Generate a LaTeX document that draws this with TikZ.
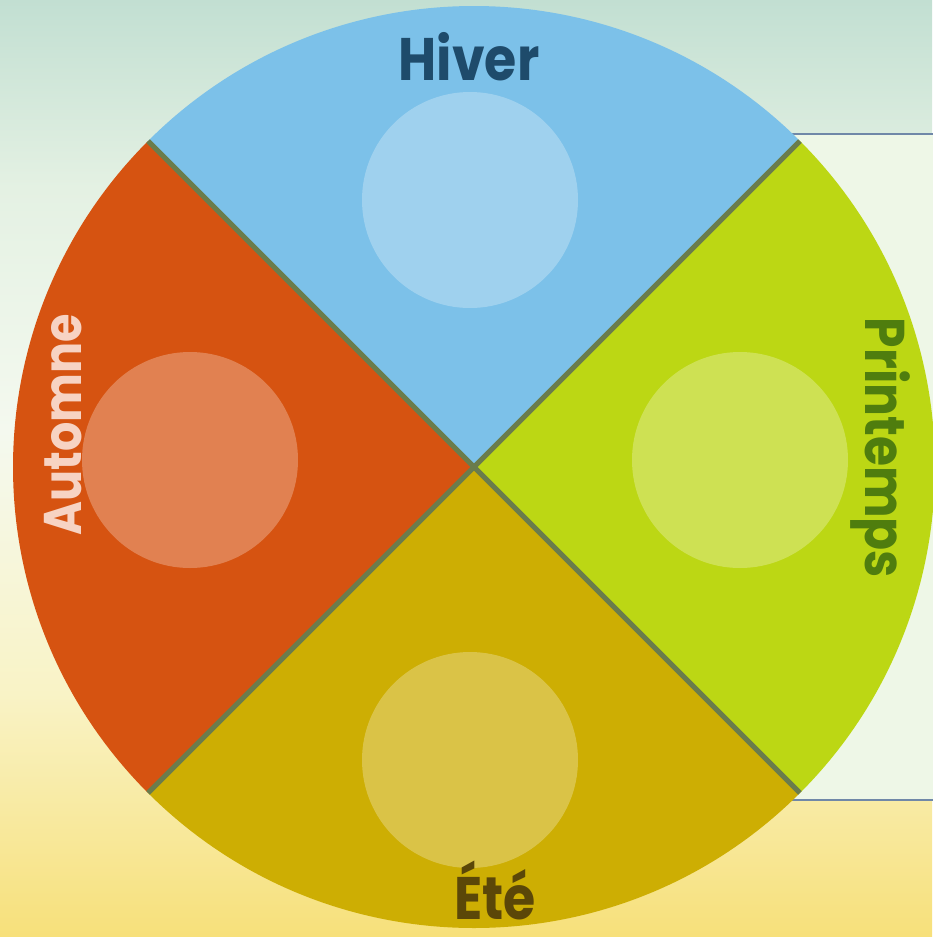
\documentclass[tikz,border=0pt]{standalone}
\usepackage{fontspec}
\usetikzlibrary{calc}
\newfontfamily\labfont[FakeStretch=0.87]{Poppins}
\definecolor{bgtop}{HTML}{C2DFD2}
\definecolor{bgupper}{HTML}{E4F1E3}
\definecolor{bgmid}{HTML}{F4F9EF}
\definecolor{bglower}{HTML}{F9F3C6}
\definecolor{bgbot}{HTML}{F7E07A}
\definecolor{secblue}{HTML}{7CC1E9}
\definecolor{secgreen}{HTML}{BCD714}
\definecolor{secyellow}{HTML}{CDAE03}
\definecolor{secorange}{HTML}{D65311}
\definecolor{divider}{HTML}{6A7C4C}
\definecolor{txtblue}{HTML}{1E4B6B}
\definecolor{txtgreen}{HTML}{4F7D0E}
\definecolor{txtyellow}{HTML}{5B4708}
\definecolor{txtorange}{HTML}{F7D3C3}
\definecolor{panelfill}{HTML}{EEF7E7}
\definecolor{panelline}{HTML}{7088A8}
% the path box is mapped onto 25bp..75bp of the shading
\pgfdeclareverticalshading{bgshade}{100bp}{color(0bp)=(bgbot); color(25bp)=(bgbot); color(38bp)=(bglower); color(52bp)=(bgmid); color(65bp)=(bgupper); color(75bp)=(bgtop); color(100bp)=(bgtop)}
\tikzset{
  divline/.style={draw=divider, line width=5pt},
  innerdisc/.style={circle, fill=white, fill opacity=0.27, draw=none, minimum size=216pt, inner sep=0pt},
  seasonlabel/.style={font=\labfont\bfseries\fontsize{#1}{#1}\selectfont, inner sep=0pt, anchor=center},
  seasonlabel/.default=60,
  panel/.style={fill=panelfill, draw=panelline, line width=2.5pt}
}
\begin{document}
\begin{tikzpicture}[x=1pt, y=1pt]
\useasboundingbox (0,0) rectangle (932,-937);
\shade[shading=bgshade] (0,0) rectangle (932,-937);
% right panel behind the wheel
\path[panel] (793,-134) rectangle (945,-800);
\coordinate (C) at (474,-467);
\def\R{461}
% sectors
\fill[secblue]   (C) -- ++(45:\R)  arc[start angle=45,  end angle=135, radius=\R] -- cycle;
\fill[secorange] (C) -- ++(135:\R) arc[start angle=135, end angle=225, radius=\R] -- cycle;
\fill[secyellow] (C) -- ++(225:\R) arc[start angle=225, end angle=315, radius=\R] -- cycle;
\fill[secgreen]  (C) -- ++(-45:\R) arc[start angle=-45, end angle=45,  radius=\R] -- cycle;
% dividers
\coordinate (ne) at ($(C)+(45:\R)$);
\coordinate (nw) at ($(C)+(135:\R)$);
\coordinate (sw) at ($(C)+(225:\R)$);
\coordinate (se) at ($(C)+(-45:\R)$);
\draw[divline] (nw) -- (se);
\draw[divline] (sw) -- (ne);
% inner discs
\node[innerdisc] (dtop) at (470,-200) {};
\node[innerdisc] (dright) at (740,-460) {};
\node[innerdisc] (dbottom) at (470,-760) {};
\node[innerdisc] (dleft) at (190,-460) {};
% labels
\node[seasonlabel, text=txtblue] (hiver) at (469,-57) {Hiver};
\node[seasonlabel, text=txtyellow] (ete) at (495,-890) {Été};
\node[seasonlabel=53, text=txtorange, rotate=90] (automne) at (63,-425) {Automne};
\node[seasonlabel=56, text=txtgreen, rotate=-90] (printemps) at (880,-448) {Printemps};
\end{tikzpicture}
\end{document}
